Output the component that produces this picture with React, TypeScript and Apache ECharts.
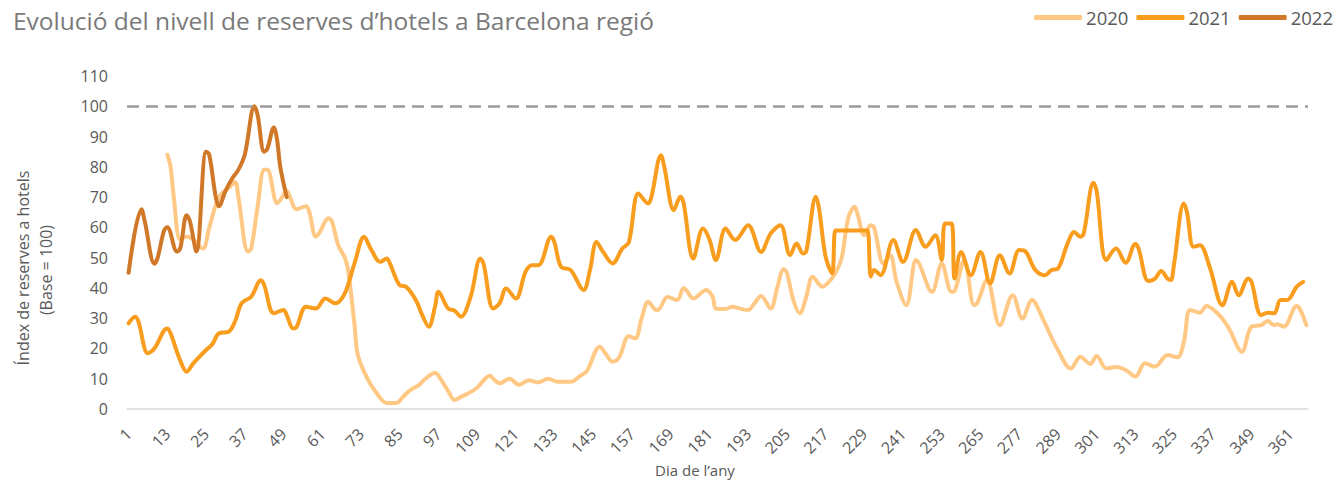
import React, { useEffect, useRef } from "react";
import * as echarts from "echarts";

const TITLE = "Evolució del nivell de reserves d’hotels a Barcelona regió";
const Y_NAME_1 = "Índex de reserves a hotels";
const Y_NAME_2 = "(Base = 100)";
const X_NAME = "Dia de l’any";
const SERIES_NAMES = ["2020", "2021", "2022"];
const COLORS = ["#FFC985", "#F99D1E", "#D17828"];

// Day-of-year categories 1..366
const DAYS: string[] = Array.from({ length: 366 }, (_, i) => String(i + 1));

// [day, value] points
const y2020: [number, number][] = [
  [13, 84], [14, 80], [15, 70], [17, 56], [19, 57], [21, 56], [24, 53], [26, 60], [29, 70], [32, 73],
  [34, 75], [35, 70], [38, 52], [39, 53], [41, 67], [43, 79], [44, 79], [47, 68], [48, 69], [50, 72],
  [51, 70], [53, 66], [56, 67], [57, 65], [59, 57], [60, 58], [63, 63], [64, 62], [66, 54], [68, 50],
  [69, 46], [71, 28], [72, 18], [75, 10], [78, 5], [81, 2], [84, 2], [86, 4], [88, 6], [91, 8],
  [93, 10], [96, 12], [97, 11], [100, 6], [102, 3], [104, 4], [106, 5], [109, 7], [113, 11], [114, 10],
  [116, 8.5], [119, 10], [122, 8], [125, 9.5], [128, 8.8], [131, 10], [134, 9], [138, 9], [141, 11], [143, 12.5],
  [147, 20.6], [149, 18], [151, 15.6], [153, 17], [156, 24], [158, 23.3], [160, 30], [162, 35.4], [164, 33], [165, 32.7],
  [168, 37], [171, 36], [173, 40], [174, 39], [176, 36.5], [180, 39.3], [182, 37], [183, 33.2], [186, 33], [188, 33.8],
  [191, 33], [193, 32.7], [195, 35], [197, 37.3], [200, 33.2], [202, 40], [204, 46.2], [205, 45], [207, 36], [209, 31.6],
  [211, 37], [213, 43.7], [216, 40.4], [218, 42], [220, 44.8], [222, 50], [224, 63], [226, 66.8], [227, 64], [229, 57.4],
  [231, 60.7], [232, 60], [235, 48], [237, 50.8], [239, 42], [242, 34.3], [245, 49.2], [246, 48], [250, 38.7], [253, 48.1],
  [256, 38.7], [257, 39], [260, 49.2], [263, 34.3], [264, 35], [267, 42.6], [271, 27.7], [275, 37.6], [278, 29.9], [281, 36],
  [282, 35], [285, 28.3], [289, 19.5], [293, 13.4], [296, 17.3], [299, 14.9], [301, 17.5], [304, 13.4], [307, 13.9], [310, 12.9],
  [313, 10.7], [316, 15.1], [319, 14], [323, 17.8], [326, 17.1], [328, 22], [330, 32.7], [333, 31.8], [335, 34], [339, 31],
  [342, 26.6], [346, 18.9], [349, 27.2], [352, 27.7], [354, 29.1], [356, 27.7], [357, 28], [359, 27.2], [363, 34], [364, 33],
  [366, 27.7],
];

const y2021: [number, number][] = [
  [1, 28.3], [3, 30.5], [4, 29], [7, 18.4], [9, 20], [12, 26], [13, 26.6], [14, 25], [17, 16], [19, 12.3],
  [21, 15], [23, 17.3], [25, 19.5], [27, 21.5], [29, 25], [32, 25.5], [34, 29], [36, 34.9], [39, 37.1], [42, 42.5],
  [43, 41], [46, 31.6], [49, 32.7], [50, 31], [52, 26.6], [53, 27], [56, 33.8], [59, 33.2], [62, 36.5], [65, 34.9],
  [68, 38.2], [71, 48.1], [74, 56.9], [76, 53], [79, 48.6], [81, 49.7], [82, 48], [85, 40.9], [87, 40.4], [90, 36],
  [92, 31], [94, 27.2], [96, 34], [97, 38.7], [100, 33.2], [102, 32.5], [104, 30.5], [107, 37.1], [110, 49.7], [111, 48],
  [114, 33.2], [116, 35], [118, 39.8], [121, 36.5], [124, 45.3], [126, 47.5], [128, 47.5], [132, 56.9], [133, 55], [135, 47],
  [138, 45.9], [142, 39.3], [144, 46], [146, 55.2], [148, 52], [151, 48.1], [154, 53], [156, 55], [159, 71.2], [162, 67.9],
  [163, 70], [166, 83.8], [167, 80], [170, 65.7], [172, 70.1], [173, 68], [176, 49.7], [179, 59.6], [181, 56], [183, 49.2],
  [186, 59.6], [189, 55.8], [193, 60.7], [197, 51.9], [200, 58], [203, 60.7], [206, 50.8], [208, 54.7], [210, 51.4], [211, 52],
  [214, 70.1], [215, 66], [217, 50.3], [219, 44.8], [220, 59], [221, 59], [229, 59], [230, 59], [231, 43.7], [232, 45.9],
  [234, 44.2], [238, 55.8], [241, 48.6], [245, 59.1], [248, 53.6], [251, 57.4], [253, 49.2], [254, 61.3], [256, 61.3], [257, 43.1],
  [259, 51.9], [262, 44.2], [265, 51.9], [268, 41.5], [271, 50.8], [274, 44.8], [277, 52.5], [279, 52], [282, 45.9], [285, 44.2],
  [287, 45.9], [289, 46.4], [292, 54.7], [294, 58.5], [296, 56.9], [297, 58], [300, 74.7], [301, 72], [304, 49.2], [307, 53],
  [310, 48.3], [313, 54.5], [314, 53], [317, 42.3], [319, 43], [321, 45.6], [323, 43], [324, 42.6], [325, 48], [328, 67.9],
  [329, 65], [331, 53.6], [333, 54.1], [336, 47], [340, 34.3], [343, 42], [345, 37.6], [348, 43.1], [349, 42], [352, 31],
  [354, 31.8], [356, 31.6], [358, 36], [360, 36], [363, 40.4], [365, 42],
];

const y2022: [number, number][] = [
  [1, 45], [5, 66], [6, 62], [9, 48], [10, 50], [12, 59], [13, 60], [16, 52], [17, 53], [19, 64],
  [20, 62], [22, 52], [25, 85], [26, 84], [28, 70], [29, 67], [31, 72], [33, 76], [35, 79], [37, 84],
  [40, 100], [41, 97], [43, 85], [44, 86], [46, 93], [47, 89], [48, 80], [50, 70],
];

const Y_MIN = 0;
const Y_MAX = 110;
const Y_STEP = 10;
const REF_LINE = 100;

const FONT = "'Open Sans', 'Noto Sans', sans-serif";
const GREY = "#595959";

function toCat(points: [number, number][]) {
  return points.map(([d, v]) => [d - 1, v]);
}

export default function App() {
  const ref = useRef<HTMLDivElement>(null);

  useEffect(() => {
    if (!ref.current) return;
    document.body.style.margin = "0";
    const chart = echarts.init(ref.current, null, { renderer: "svg" });
    const datasets = [y2020, y2021, y2022];
    const option: any = {
      animation: false,
      backgroundColor: "#ffffff",
      title: {
        text: TITLE,
        left: 8,
        top: 3,
        textStyle: { fontFamily: FONT, fontSize: 24.5, fontWeight: "normal", color: "#7a7a7a" },
      },
      legend: {
        right: 1,
        top: 3,
        icon: "roundRect",
        itemWidth: 48,
        itemHeight: 5,
        itemGap: 8,
        textStyle: { fontFamily: FONT, fontSize: 18.5, color: GREY, padding: [0, 0, 0, -1] },
        data: SERIES_NAMES,
      },
      grid: { left: 127, right: 31, top: 76, bottom: 71, containLabel: false },
      xAxis: {
        type: "category",
        data: DAYS,
        boundaryGap: true,
        axisLine: { show: true, lineStyle: { color: "#D9D9D9", width: 1.5 } },
        axisTick: { show: false },
        axisLabel: {
          interval: 11,
          rotate: 45,
          margin: 22,
          fontFamily: FONT,
          fontSize: 16,
          color: GREY,
        },
        splitLine: { show: false },
      },
      yAxis: {
        type: "value",
        min: Y_MIN,
        max: Y_MAX,
        interval: Y_STEP,
        axisLine: { show: false },
        axisTick: { show: false },
        splitLine: { show: false },
        axisLabel: { margin: 19, fontFamily: FONT, fontSize: 16, color: GREY },
      },
      graphic: [
        {
          type: "text",
          x: 23,
          y: 268,
          rotation: Math.PI / 2,
          style: {
            text: Y_NAME_1,
            fontFamily: FONT,
            fontSize: 16,
            fill: GREY,
            textAlign: "center",
            textVerticalAlign: "middle",
          },
        },
        {
          type: "text",
          x: 46,
          y: 270,
          rotation: Math.PI / 2,
          style: {
            text: Y_NAME_2,
            fontFamily: FONT,
            fontSize: 16,
            fill: GREY,
            textAlign: "center",
            textVerticalAlign: "middle",
          },
        },
        {
          type: "text",
          x: 695,
          y: 470,
          style: {
            text: X_NAME,
            fontFamily: FONT,
            fontSize: 15,
            fill: GREY,
            textAlign: "center",
            textVerticalAlign: "middle",
          },
        },
      ],
      series: datasets.map((d, i) => ({
        name: SERIES_NAMES[i],
        type: "line",
        data: toCat(d),
        smooth: 0.35,
        showSymbol: false,
        symbol: "none",
        z: 2 + i,
        lineStyle: { width: 4, color: COLORS[i], cap: "round", join: "round" },
        itemStyle: { color: COLORS[i] },
        markLine:
          i === 0
            ? {
                silent: true,
                symbol: "none",
                label: { show: false },
                lineStyle: { type: [12, 7], width: 2.5, color: "#9B9B9F" },
                data: [{ yAxis: REF_LINE }],
              }
            : undefined,
      })),
    };
    chart.setOption(option);
    return () => chart.dispose();
  }, []);

  return (
    <div
      ref={ref}
      style={{ position: "fixed", left: 0, top: 0, width: 1339, height: 480 }}
    />
  );
}
